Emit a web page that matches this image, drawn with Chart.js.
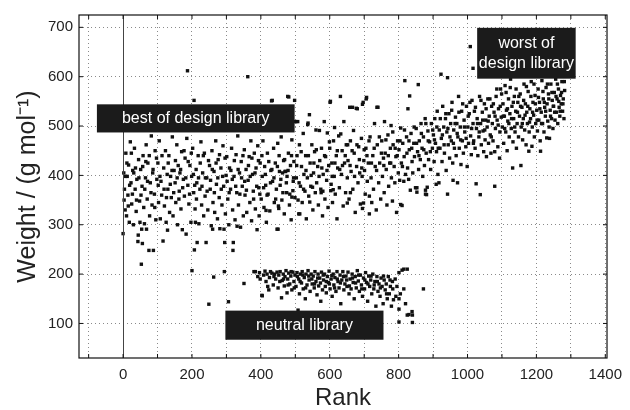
<!DOCTYPE html>
<html>
<head>
<meta charset="utf-8">
<script src="https://cdn.jsdelivr.net/npm/chart.js@4.4.0/dist/chart.umd.min.js"></script>
<style>
  body { margin: 0; background: #fff; }
  canvas { display: block; }
</style>
</head>
<body>
<canvas id="rank-chart" width="630" height="410"></canvas>
<script>
// [rank, weight]
const designLibrary = [
  [0,282],[2,405],[4,372],[6,330],[8,445],[10,318],[12,398],[14,360],[16,421],[18,305],[21,468],[23,385],[25,342],[28,410],[30,300],[33,455],[35,372],[38,327],[40,392],[43,266],[44,279],[45,432],[48,348],[49,305],
  [51,412],[53,220],[54,291],[55,378],[56,262],[58,440],[60,335],[62,302],[65,395],[67,462],[68,291],[70,352],[72,425],[75,248],[77,318],[79,385],[82,480],[84,340],[86,405],[88,248],[91,362],[93,450],[95,310],[98,392],
  [101,425],[103,345],[105,470],[108,312],[110,388],[112,360],[116,267],[118,415],[120,338],[123,450],[125,305],[128,402],[129,289],[130,372],[133,440],[135,325],[138,398],[140,355],[143,478],[145,318],[148,410],
  [151,385],[153,345],[156,462],[158,300],[160,420],[163,368],[165,405],[168,332],[170,448],[172,290],[175,392],[178,358],[180,435],[183,281],[185,475],[187,612],[188,380],[191,342],[194,420],[197,305],[199,398],
  [200,207],[202,455],[205,365],[206,552],[207,249],[209,332],[210,305],[212,412],[214,385],[215,264],[218,440],[220,302],[223,372],[226,468],[228,340],[231,405],[234,318],[236,445],[238,358],[241,264],[243,395],[246,330],[249,139],
  [251,420],[253,372],[256,298],[258,450],[260,291],[261,345],[263,194],[264,408],[266,325],[269,470],[271,382],[274,312],[276,432],[279,355],[281,292],[284,415],[287,340],[290,460],[292,378],[293,291],[294,205],[295,264],[297,322],[299,400],
  [301,438],[304,352],[306,144],[307,300],[309,415],[312,372],[315,455],[318,330],[319,248],[320,264],[322,398],[325,310],[328,442],[330,365],[331,297],[333,480],[335,340],[338,405],[341,295],[343,428],[346,378],[349,318],
  [351,181],[352,452],[354,360],[357,412],[359,325],[362,600],[363,390],[366,438],[368,345],[371,470],[373,308],[376,402],[378,368],[381,445],[384,332],[386,415],[389,290],[391,460],[394,375],[395,318],[398,425],
  [401,352],[404,398],[406,470],[409,335],[411,418],[414,380],[415,329],[416,305],[419,445],[421,362],[424,492],[426,328],[429,410],[431,551],[433,552],[434,388],[437,455],[439,345],[442,425],[445,372],[447,291],[449,465],
  [450,291],[451,338],[452,333],[454,408],[456,380],[459,478],[461,350],[463,405],[466,430],[468,322],[470,408],[472,408],[475,365],[476,398],[478,560],[480,445],[481,559],[483,340],[486,420],[488,310],[490,356],[490,472],[493,369],[494,388],[496,428],[498,552],[499,355],
  [501,509],[503,395],[505,440],[507,509],[508,350],[510,322],[512,462],[513,322],[515,378],[518,418],[520,345],[523,485],[525,402],[528,368],[530,440],[532,312],[535,395],[536,503],[537,506],[539,358],[541,523],[542,346],[543,425],[545,378],[548,462],
  [550,376],[551,330],[553,405],[556,448],[558,365],[560,492],[562,385],[565,418],[567,340],[570,491],[571,430],[574,372],[575,365],[576,455],[579,318],[580,368],[581,402],[584,509],[586,352],[588,438],[591,390],[593,486],[595,335],[597,420],[599,468],
  [601,548],[602,550],[603,369],[604,382],[606,425],[608,345],[610,371],[611,470],[613,398],[614,497],[616,362],[619,440],[621,312],[623,415],[626,480],[628,375],[631,560],[632,484],[634,402],[636,450],[639,338],[641,509],[643,425],[646,365],[648,462],
  [651,344],[651,395],[653,430],[656,352],[658,538],[660,365],[660,470],[662,408],[666,538],[667,372],[669,491],[671,445],[674,325],[677,536],[678,418],[680,535],[682,385],[684,458],[687,405],[689,342],[692,475],[694,398],[695,333],[695,544],[697,548],[698,344],[699,430],
  [701,410],[703,362],[705,455],[706,555],[707,558],[709,388],[712,425],[715,322],[715,358],[717,478],[720,395],[722,345],[725,440],[727,372],[730,505],[732,418],[735,330],[737,538],[738,462],[740,538],[742,385],[745,425],[748,352],
  [751,470],[753,398],[756,435],[758,365],[759,509],[761,445],[764,412],[766,340],[769,482],[771,378],[774,425],[776,455],[778,501],[779,395],[782,348],[784,462],[787,418],[789,385],[792,438],[794,325],[797,470],[799,405],
  [801,452],[803,390],[806,496],[806,341],[808,425],[810,339],[812,465],[815,388],[816,438],[818,592],[820,402],[823,478],[826,415],[827,535],[829,392],[831,452],[832,561],[834,370],[836,485],[839,428],[841,405],[844,465],[846,438],[849,375],
  [851,495],[853,375],[853,366],[855,448],[857,584],[858,412],[860,470],[863,432],[865,505],[868,455],[870,398],[872,478],[875,420],[877,515],[878,370],[878,362],[880,445],[881,361],[883,376],[885,490],[887,432],[890,468],[893,412],[895,505],[898,455],
  [901,482],[903,428],[905,515],[907,465],[909,382],[910,448],[912,530],[914,402],[917,385],[918,492],[920,455],[923,605],[924,475],[926,428],[928,540],[931,498],[933,445],[936,515],[938,410],[940,488],[942,598],[942,362],[944,462],[946,525],[948,435],
  [951,505],[953,470],[955,548],[957,425],[958,390],[960,492],[962,455],[965,518],[967,440],[969,505],[971,385],[972,478],[974,560],[976,455],[979,498],[981,422],[983,530],[985,470],[988,445],[990,512],[992,488],[995,458],[997,540],[999,418],
  [1001,498],[1003,465],[1005,525],[1008,661],[1009,480],[1011,442],[1013,552],[1016,617],[1016,505],[1018,470],[1020,530],[1022,455],[1025,383],[1026,495],[1028,515],[1030,440],[1033,478],[1035,560],[1037,361],[1038,505],[1040,462],[1043,528],[1045,490],[1047,448],[1049,545],
  [1051,472],[1053,512],[1055,438],[1057,498],[1059,555],[1061,465],[1063,520],[1066,482],[1068,445],[1070,540],[1072,505],[1074,470],[1077,528],[1079,378],[1079,448],[1081,495],[1083,560],[1086,512],[1088,458],[1090,535],[1093,435],[1094,488],[1096,575],[1098,518],
  [1101,498],[1103,545],[1105,465],[1107,520],[1109,582],[1111,488],[1113,532],[1115,450],[1117,510],[1119,555],[1121,478],[1123,525],[1125,595],[1127,495],[1129,540],[1131,415],[1132,468],[1134,515],[1136,560],[1138,488],[1140,530],[1142,455],[1144,505],[1146,548],[1148,478],
  [1151,520],[1153,565],[1155,420],[1156,498],[1158,538],[1160,472],[1162,515],[1164,585],[1166,492],[1168,545],[1170,462],[1172,528],[1174,505],[1176,570],[1178,449],[1179,488],[1181,535],[1183,515],[1185,590],[1187,459],[1188,498],[1190,548],[1192,522],[1194,478],[1196,562],[1198,505],
  [1201,532],[1203,490],[1205,575],[1207,512],[1209,548],[1211,470],[1212,449],[1214,528],[1216,592],[1218,505],[1220,555],[1222,488],[1224,538],[1226,520],[1228,578],[1230,476],[1231,545],[1233,510],[1235,565],[1237,498],[1238,475],[1240,532],[1242,585],[1244,515],[1246,552],[1248,495],
  [1250,540],[1252,568],[1254,512],[1256,595],[1258,528],[1260,555],[1262,505],[1264,575],[1266,538],[1268,520],[1270,562],[1272,545],[1274,590],[1276,530],[1278,555],[1280,515],[1282,572],
  // denser core
  [3,350],[7,398],[11,425],[15,338],[19,380],[24,445],[27,362],[31,405],[36,415],[39,350],[46,395],[52,360],[57,418],[63,372],[66,428],[71,388],[76,440],[81,365],[87,412],[92,335],[97,435],
  [102,380],[107,398],[113,440],[119,372],[126,355],[131,425],[137,382],[142,410],[147,365],[152,430],[157,395],[162,352],[167,412],[173,375],[177,450],[182,395],[189,428],[193,362],[198,445],
  [204,402],[208,380],[213,352],[219,395],[224,425],[229,378],[233,440],[239,395],[244,368],[248,430],[254,390],[259,412],[265,365],[270,425],[275,395],[280,442],[285,372],[289,398],[296,435],
  [302,388],[308,365],[313,410],[317,392],[323,430],[327,378],[334,412],[339,362],[344,395],[348,440],[353,388],[358,370],[364,420],[369,398],[374,435],[379,352],[383,405],[388,378],[393,430],[397,362],
  [403,440],[408,375],[413,402],[418,360],[423,428],[428,385],[432,412],[438,395],[443,352],[448,418],[453,440],[458,392],[464,365],[469,432],[474,385],[479,410],[484,362],[489,440],[495,395],
  [504,420],[511,385],[517,448],[524,372],[531,410],[538,440],[546,400],[554,425],[561,452],[569,398],[577,415],[585,440],[592,410],[600,455],[607,398],[615,425],[622,450],[629,412],[637,420],[645,440],
  [652,462],[659,420],[665,450],[672,398],[679,462],[686,432],[693,415],[700,452],[708,440],[714,470],[721,425],[729,455],[736,410],[744,478],[750,445],[757,420],[763,472],[770,440],[777,425],[783,488],
  [790,455],[796,440],[804,470],[811,418],[817,492],[824,445],[830,470],[838,455],[845,498],[852,465],[859,440],[866,485],[873,452],[879,505],[886,470],[892,448],[899,492],
  [904,472],[911,498],[915,455],[921,515],[927,482],[932,462],[937,525],[943,495],[949,478],[954,532],[959,465],[964,505],[970,485],[975,528],[980,472],[986,545],[991,498],[996,475],
  [1002,520],[1007,548],[1012,495],[1017,465],[1023,538],[1029,505],[1034,488],[1039,552],[1044,512],[1050,492],[1054,535],[1060,510],[1065,555],[1069,478],[1075,545],[1080,520],[1085,575],[1089,502],[1095,540],[1099,565],
  [1104,520],[1108,495],[1112,568],[1116,535],[1120,505],[1124,578],[1128,515],[1133,548],[1137,498],[1141,575],[1145,528],[1149,560],[1154,540],[1159,505],[1163,552],[1167,522],[1171,580],[1175,540],[1180,508],[1184,560],
  [1189,528],[1193,585],[1197,545],[1202,512],[1206,558],[1210,535],[1215,505],[1219,570],[1223,548],[1227,530],[1232,585],[1236,555],[1241,520],[1245,568],[1249,540],[1253,528],[1257,560],[1261,585],[1265,550],[1269,530],[1273,568],[1277,545],[1281,590]
];

const neutralLibrary = [
  [380,205],[384,205],[391,195],[396,203],[403,157],[404,156],[408,198],[412,206],[415,185],[418,200],[423,168],[425,193],[428,205],[432,202],[436,178],[440,200],[443,190],[447,204],[450,172],[452,198],
  [456,205],[460,152],[462,187],[465,200],[468,176],[470,195],[473,207],[476,162],[478,190],[481,202],[484,180],[487,196],[490,168],[493,204],[496,185],[499,198],[502,175],[505,203],[508,127],[510,190],
  [512,160],[515,200],[518,182],[520,205],[523,170],[526,193],[529,150],[531,200],[534,178],[537,207],[540,188],[543,165],[546,200],[549,180],
  [552,196],[555,172],[557,205],[560,185],[563,158],[566,200],[568,176],[571,192],[574,145],[576,204],[579,168],[582,188],[585,200],[587,175],[590,162],[593,195],[596,183],[598,206],
  [601,170],[604,190],[607,155],[610,200],[612,178],[615,193],[618,165],[621,205],[624,185],[627,172],[630,198],[632,140],[635,188],[638,205],[641,168],[644,180],[647,196],
  [650,175],[653,204],[656,160],[659,190],[662,170],[665,200],[668,183],[671,150],[674,195],[677,172],[680,207],[683,186],[686,165],[689,198],[692,178],[695,155],[698,192],
  [701,170],[704,203],[707,183],[710,145],[713,196],[716,175],[719,188],[722,160],[725,200],[728,170],[731,185],[734,135],[737,195],[740,165],[743,180],[746,155],[749,192],[752,175],[755,140],[758,188],
  [761,168],[764,180],[767,150],[770,195],[773,160],[776,175],[779,135],[782,185],[785,148],[790,190],[795,175],
  [801,203],[801,150],[801,129],[801,103],[805,160],[810,208],[815,210],[815,170],[820,140],[825,210],[825,117],[830,118],[839,124],[840,117],[840,102],[872,170],
  [398,190],[420,175],[438,195],[455,185],[466,190],[479,178],[488,205],[497,172],[506,195],[514,185],[522,198],[530,172],[539,196],[548,190],[556,180],[565,192],[573,182],[581,198],[590,185],[599,180],
  [606,197],[614,172],[622,190],[631,182],[640,195],[649,188],[657,176],[666,192],[675,182],[684,198],[693,170],[702,188],[711,180],[720,196],[729,178],[738,185],[747,172],[756,196],[765,160],[775,188],[783,170],[792,155]
];

const xGridValues = [-100, 0, 100, 200, 300, 400, 500, 600, 700, 800, 900, 1000, 1100, 1200, 1300, 1400];
const xTickLabels = [0, 200, 400, 600, 800, 1000, 1200, 1400];
const yTickLabels = [100, 200, 300, 400, 500, 600, 700];

// black label boxes, in data units
const labelBoxes = [
  { text: ["best of design library"], x0: -76, x1: 498, y0: 487, y1: 544 },
  { text: ["worst of", "design library"], x0: 1028, x1: 1314, y0: 596, y1: 699 },
  { text: ["neutral library"], x0: 297, x1: 756, y0: 67, y1: 126 }
];

const FONT = "'Liberation Sans', Arial, Helvetica, sans-serif";

const toXY = (pts) => pts.map((p) => ({ x: p[0], y: p[1] }));

const boxPlugin = {
  id: "boxes",
  afterDatasetsDraw(chart) {
    const { ctx, chartArea: a, scales: { x, y } } = chart;
    ctx.save();
    // solid line at rank 0
    const x0 = Math.round(x.getPixelForValue(0)) + 0.5;
    ctx.strokeStyle = "#444";
    ctx.lineWidth = 1;
    ctx.beginPath();
    ctx.moveTo(x0, a.top);
    ctx.lineTo(x0, a.bottom);
    ctx.stroke();

    labelBoxes.forEach((b) => {
      const l = x.getPixelForValue(b.x0), r = x.getPixelForValue(b.x1);
      const t = y.getPixelForValue(b.y1), bt = y.getPixelForValue(b.y0);
      ctx.fillStyle = "#1b1b1b";
      ctx.fillRect(l, t, r - l, bt - t);
      ctx.fillStyle = "#fff";
      ctx.font = "16px " + FONT;
      ctx.textAlign = "center";
      ctx.textBaseline = "middle";
      const lh = 20;
      const cy = (t + bt) / 2 - ((b.text.length - 1) * lh) / 2;
      b.text.forEach((s, i) => ctx.fillText(s, (l + r) / 2, cy + i * lh));
    });

    // frame + inward ticks
    ctx.strokeStyle = "#111";
    ctx.lineWidth = 1.2;
    ctx.strokeRect(a.left, a.top, a.right - a.left, a.bottom - a.top);
    ctx.lineWidth = 1;
    xGridValues.forEach((v) => {
      const px = x.getPixelForValue(v);
      ctx.beginPath();
      ctx.moveTo(px, a.bottom); ctx.lineTo(px, a.bottom - 4);
      ctx.moveTo(px, a.top); ctx.lineTo(px, a.top + 4);
      ctx.stroke();
    });
    yTickLabels.forEach((v) => {
      const py = y.getPixelForValue(v);
      ctx.beginPath();
      ctx.moveTo(a.left, py); ctx.lineTo(a.left + 4, py);
      ctx.moveTo(a.right, py); ctx.lineTo(a.right - 4, py);
      ctx.stroke();
    });
    ctx.restore();
  }
};

const gridStyle = { color: "#8a8a8a", lineWidth: 1, drawTicks: false };

new Chart(document.getElementById("rank-chart").getContext("2d"), {
  type: "scatter",
  data: {
    datasets: [
      {
        label: "design library",
        data: toXY(designLibrary),
        pointStyle: "rect",
        pointRadius: 2.4,
        borderWidth: 0,
        backgroundColor: "#111"
      },
      {
        label: "neutral library",
        data: toXY(neutralLibrary),
        pointStyle: "rect",
        pointRadius: 2.4,
        borderWidth: 0,
        backgroundColor: "#111"
      }
    ]
  },
  options: {
    responsive: false,
    animation: false,
    layout: { padding: { top: 13, right: 8, left: 0, bottom: 0 } },
    plugins: { legend: { display: false }, tooltip: { enabled: false } },
    scales: {
      x: {
        type: "linear",
        min: -128,
        max: 1405,
        afterFit: (s) => { s.height = 52; },
        afterBuildTicks: (s) => { s.ticks = xGridValues.map((v) => ({ value: v })); },
        grid: gridStyle,
        border: { display: false, dash: [1, 3] },
        ticks: {
          padding: 8,
          color: "#222",
          font: { family: FONT, size: 15 },
          maxRotation: 0,
          autoSkip: false,
          callback: (v) => (xTickLabels.includes(v) ? String(v) : "")
        },
        title: {
          display: true,
          text: "Rank",
          color: "#222",
          font: { family: FONT, size: 24, lineHeight: 1 },
          padding: { top: 0, bottom: 0 }
        }
      },
      y: {
        type: "linear",
        min: 30,
        max: 725,
        afterFit: (s) => { s.width = 79; },
        afterBuildTicks: (s) => { s.ticks = yTickLabels.map((v) => ({ value: v })); },
        grid: gridStyle,
        border: { display: false, dash: [1, 3] },
        ticks: {
          padding: 6,
          color: "#222",
          font: { family: FONT, size: 15 },
          callback: (v) => String(v)
        },
        title: {
          display: true,
          text: "Weight / (g mol\u207B\u00B9)",
          color: "#222",
          font: { family: FONT, size: 25, lineHeight: 1 },
          padding: { top: 16, bottom: 0 }
        }
      }
    }
  },
  plugins: [boxPlugin]
});
</script>
</body>
</html>
